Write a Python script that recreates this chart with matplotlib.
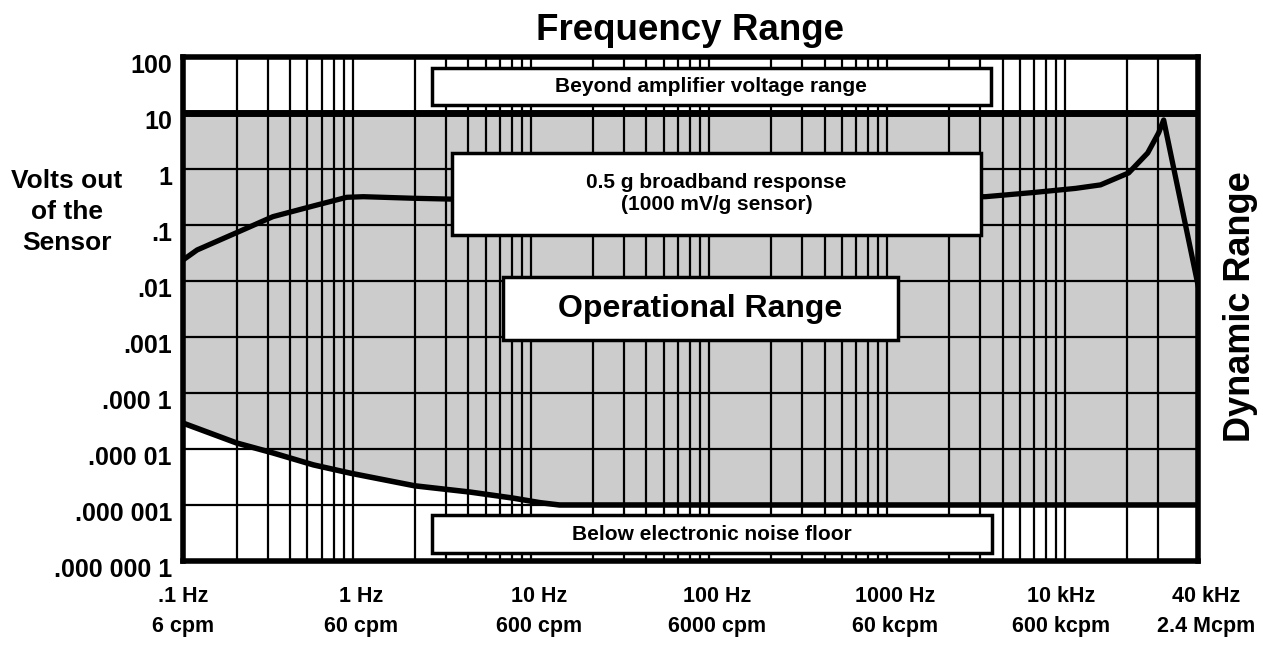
import numpy as np
import matplotlib
matplotlib.use("Agg")
import matplotlib.pyplot as plt
from matplotlib.ticker import LogLocator, FixedLocator, NullFormatter
from matplotlib.patches import Rectangle
import matplotlib.transforms as mtransforms

plt.rcParams['font.family'] = ['Liberation Sans', 'DejaVu Sans']
plt.rcParams['font.weight'] = 'bold'

# ------------------------------------------
# Data
# ------------------------------------------

# noise floor (lower edge of operational range)
noise_freq = [0.1, 0.2, 0.32, 0.54, 0.87, 2.0, 4.1, 7.1, 10.1, 13, 50000]
noise_volts = [2.9e-5, 1.28e-5, 8.5e-6, 5.2e-6, 3.7e-6, 2.2e-6, 1.7e-6, 1.33e-6, 1.1e-6, 1.0e-6, 1.0e-6]

# 0.5 g broadband response of a 1000 mV/g sensor
resp_freq = [0.1, 0.12, 0.2, 0.32, 0.54, 0.83, 1.03, 1.96, 3.15,
             3200, 5960, 10260, 14190, 20400, 26100, 30050, 32100, 50000]
resp_volts = [0.0237, 0.0358, 0.073, 0.141, 0.219, 0.312, 0.32, 0.30, 0.29,
              0.32, 0.38, 0.45, 0.52, 0.85, 1.93, 4.4, 7.5, 0.0085]

amp_limit = 10.0
x_min, x_max = 0.1, 50000
y_min, y_max = 1e-7, 100

x_ticks = [0.1, 1, 10, 100, 1000, 10000, 40000]
x_labels = [".1 Hz\n6 cpm", "1 Hz\n60 cpm", "10 Hz\n600 cpm", "100 Hz\n6000 cpm",
            "1000 Hz\n60 kcpm", "10 kHz\n600 kcpm", "40 kHz\n2.4 Mcpm"]

y_ticks = [1e2, 1e1, 1, 1e-1, 1e-2, 1e-3, 1e-4, 1e-5, 1e-6, 1e-7]
y_labels = ["100", "10", "1", ".1", ".01", ".001", ".000 1", ".000 01",
            ".000 001", ".000 000 1"]

# ------------------------------------------
# Figure
# ------------------------------------------

fig = plt.figure(figsize=(12.63, 6.46), dpi=100)
ax = fig.add_axes([0.1449, 0.1316, 0.8036, 0.7802])

ax.set_xscale('log')
ax.set_yscale('log')
ax.set_xlim(x_min, x_max)
ax.set_ylim(y_min, y_max)

# gray operational range
ax.fill_between(noise_freq, noise_volts, amp_limit, color='#cccccc', lw=0, zorder=0.5)

# grid
ax.xaxis.set_major_locator(FixedLocator(x_ticks))
ax.xaxis.set_minor_locator(LogLocator(base=10, subs=np.arange(1, 10), numticks=20))
ax.xaxis.set_minor_formatter(NullFormatter())
ax.yaxis.set_major_locator(FixedLocator(y_ticks))
ax.yaxis.set_minor_locator(FixedLocator([]))
ax.grid(True, which='minor', axis='x', color='black', lw=1.6)
ax.grid(True, which='major', axis='y', color='black', lw=1.6)

ax.set_xticks(x_ticks)
ax.set_xticklabels(x_labels, fontsize=15.5, linespacing=1.55)
ax.set_yticks(y_ticks)
ax.set_yticklabels(y_labels, fontsize=18)
ax.tick_params(axis='both', which='both', length=0)
ax.tick_params(axis='x', pad=18)
ax.tick_params(axis='y', pad=8)

# nudge the crowded right-hand labels, drop the y labels a little
labs = ax.get_xticklabels()
labs[5].set_transform(labs[5].get_transform() + mtransforms.ScaledTranslation(-0.12, 0, fig.dpi_scale_trans))
labs[6].set_transform(labs[6].get_transform() + mtransforms.ScaledTranslation(0.25, 0, fig.dpi_scale_trans))
for lab in ax.get_yticklabels():
    lab.set_transform(lab.get_transform() + mtransforms.ScaledTranslation(0, -0.07, fig.dpi_scale_trans))

for s in ax.spines.values():
    s.set_linewidth(4)
    s.set_zorder(7)

# limits and curves
ax.axhline(amp_limit, color='black', lw=5, zorder=3)
ax.plot(noise_freq, noise_volts, color='black', lw=4, zorder=3, solid_capstyle='butt')
ax.plot(resp_freq, resp_volts, color='black', lw=3.8, zorder=3, solid_joinstyle='round')

# ------------------------------------------
# Annotation boxes
# ------------------------------------------

def box(x0, y0, x1, y1, text, size):
    ax.add_patch(Rectangle((x0, y0), x1 - x0, y1 - y0, transform=ax.transAxes,
                           facecolor='white', edgecolor='black', lw=2.5, zorder=5))
    ax.text((x0 + x1) / 2, (y0 + y1) / 2, text, transform=ax.transAxes,
            ha='center', va='center', fontsize=size, fontweight='bold',
            linespacing=1.2, zorder=6)

box(0.245, 0.905, 0.796, 0.978, "Beyond amplifier voltage range", 15)
box(0.265, 0.647, 0.786, 0.810, "0.5 g broadband response\n(1000 mV/g sensor)", 15)
box(0.315, 0.438, 0.704, 0.563, "Operational Range", 23)
box(0.245, 0.016, 0.797, 0.091, "Below electronic noise floor", 15)

# ------------------------------------------
# Titles
# ------------------------------------------

fig.text(0.546, 0.953, "Frequency Range", ha='center', va='center',
         fontsize=26.5, fontweight='bold')
fig.text(0.982, 0.525, "Dynamic Range", ha='center', va='center',
         rotation=90, fontsize=26, fontweight='bold')
fig.text(0.053, 0.672, "Volts out\nof the\nSensor", ha='center', va='center',
         fontsize=19, fontweight='bold', linespacing=1.38)

plt.savefig("out.png", dpi=100)
